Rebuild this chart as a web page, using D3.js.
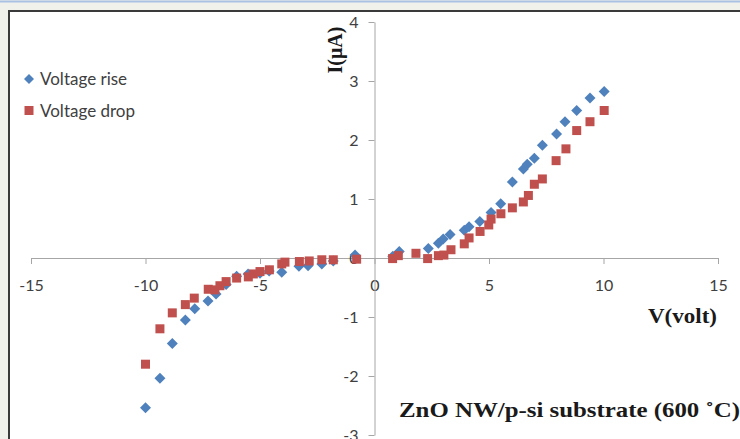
<!DOCTYPE html>
<html>
<head>
<meta charset="utf-8">
<script src="https://cdn.jsdelivr.net/npm/d3@7"></script>
<style>
html,body{margin:0;padding:0;background:#f1f1eb;}
svg{display:block;}
</style>
</head>
<body>
<svg id="chart" width="740" height="439"></svg>
<script>
// ---- data ----
const riseV = [-10.0,-9.37,-8.83,-8.26,-7.85,-7.27,-6.92,-6.48,-6.02,-5.52,-5.0,-4.6,-4.05,-3.3,-2.9,-2.3,-1.8,-0.85,0.8,1.08,2.35,2.79,3.0,3.3,3.92,4.13,4.6,5.09,5.51,6.02,6.5,6.67,6.98,7.33,7.95,8.32,8.83,9.41,10.03];
const riseI = [-2.54,-2.04,-1.45,-1.05,-0.86,-0.73,-0.61,-0.45,-0.31,-0.27,-0.26,-0.22,-0.24,-0.14,-0.13,-0.10,-0.05,0.05,0.03,0.11,0.16,0.25,0.32,0.40,0.47,0.53,0.62,0.77,0.92,1.29,1.51,1.59,1.69,1.91,2.10,2.31,2.50,2.71,2.82];
const dropV = [-10.0,-9.37,-8.83,-8.26,-7.87,-7.26,-6.97,-6.75,-6.48,-6.02,-5.51,-5.29,-5.0,-4.59,-4.05,-3.91,-3.28,-2.85,-2.3,-1.8,-0.78,0.79,1.04,1.81,2.32,2.79,3.03,3.34,3.92,4.13,4.61,4.99,5.09,5.52,6.02,6.5,6.72,6.98,7.33,7.93,8.36,8.83,9.41,10.03];
const dropI = [-1.80,-1.20,-0.93,-0.79,-0.68,-0.53,-0.54,-0.47,-0.40,-0.34,-0.32,-0.27,-0.23,-0.20,-0.10,-0.07,-0.06,-0.05,-0.03,-0.03,-0.02,-0.01,0.04,0.08,-0.01,0.04,0.05,0.14,0.24,0.34,0.45,0.56,0.66,0.75,0.85,0.95,1.06,1.25,1.34,1.65,1.85,2.16,2.31,2.50];
const xTicks = [-15,-10,-5,0,5,10,15];
const yTicks = [-3,-2,-1,0,1,2,3,4];
const seriesNames = ["Voltage rise","Voltage drop"];
const xTitle = "V(volt)";
const yTitle = "I(\u03bcA)";
const chartTitle = "ZnO NW/p-si substrate (600 \u02daC)";

const svg = d3.select("#chart");

// window chrome / frame
svg.append("line").attr("x1",0).attr("x2",740).attr("y1",1.5).attr("y2",1.5)
  .attr("stroke","#a9c1e2").attr("stroke-width",2);
svg.append("rect").attr("x",9).attr("y",11).attr("width",740).attr("height",440)
  .attr("fill","#ffffff").attr("stroke","#3a3a3a").attr("stroke-width",2);

const x = d3.scaleLinear().domain([-15,15]).range([31,718]);
const y = d3.scaleLinear().domain([-3,4]).range([435,22]);

const axisColor = "#a6a6a6";
const tickFont = "Lato, 'Open Sans', sans-serif";
const fmt = d => String(d); // plain hyphen-minus like the reference

// x axis at y=0
const gx = svg.append("g").attr("transform",`translate(0,${y(0)})`)
  .call(d3.axisBottom(x).tickValues(xTicks).tickSize(6).tickSizeOuter(0).tickFormat(fmt));
gx.select(".domain").attr("stroke",axisColor);
gx.selectAll(".tick line").attr("stroke",axisColor);
gx.selectAll(".tick text").attr("fill","#404040").attr("font-family",tickFont)
  .attr("font-size",16).attr("y",null).attr("dy",null).attr("transform","translate(0,33)");

// y axis at x=0
const gy = svg.append("g").attr("transform",`translate(${x(0)},0)`)
  .call(d3.axisLeft(y).tickValues(yTicks).tickSize(6).tickSizeOuter(0).tickFormat(fmt));
gy.select(".domain").attr("stroke",axisColor);
gy.selectAll(".tick line").attr("stroke",axisColor);
gy.selectAll(".tick text").attr("fill","#404040").attr("font-family",tickFont)
  .attr("font-size",16).attr("x",-16).attr("dy","0.35em");

// series
const rise = riseV.map((v,i)=>({v, c:riseI[i]}));
const drop = dropV.map((v,i)=>({v, c:dropI[i]}));

const diamond = "M0,-5.5L5.5,0L0,5.5L-5.5,0Z";
svg.append("g").selectAll("path").data(rise).join("path")
  .attr("d",diamond).attr("fill","#4f81bd")
  .attr("transform",d=>`translate(${x(d.v)},${y(d.c)})`);

svg.append("g").selectAll("rect").data(drop).join("rect")
  .attr("width",9).attr("height",9).attr("fill","#c0504d")
  .attr("x",d=>x(d.v)-4.5).attr("y",d=>y(d.c)-4.5);

// legend
const legFont = "Lato, 'Open Sans', sans-serif";
const lg = svg.append("g");
lg.append("path").attr("d","M0,-5L5,0L0,5L-5,0Z").attr("fill","#4f81bd").attr("transform","translate(29,79)");
lg.append("rect").attr("x",24.5).attr("y",106).attr("width",9).attr("height",9).attr("fill","#c0504d");
lg.append("text").attr("x",40).attr("y",85).text(seriesNames[0])
  .attr("font-family",legFont).attr("font-size",17).attr("fill","#404040");
lg.append("text").attr("x",40).attr("y",117).text(seriesNames[1])
  .attr("font-family",legFont).attr("font-size",17).attr("fill","#404040");

// titles
const serif = "'Liberation Serif','DejaVu Serif',serif";
svg.append("text").attr("x",648).attr("y",323)
  .attr("textLength",69).attr("lengthAdjust","spacingAndGlyphs")
  .attr("font-family",serif).attr("font-weight","bold").attr("font-size",20).attr("fill","#1a1a1a")
  .text(xTitle);
svg.append("text").attr("transform","translate(342,50) rotate(-90)").attr("text-anchor","middle")
  .attr("font-family",serif).attr("font-weight","bold").attr("font-size",20).attr("fill","#1a1a1a")
  .text(yTitle);
svg.append("text").attr("x",399).attr("y",417)
  .attr("textLength",341).attr("lengthAdjust","spacingAndGlyphs")
  .attr("font-family",serif).attr("font-weight","bold").attr("font-size",22).attr("fill","#1a1a1a")
  .text(chartTitle);
</script>
</body>
</html>
